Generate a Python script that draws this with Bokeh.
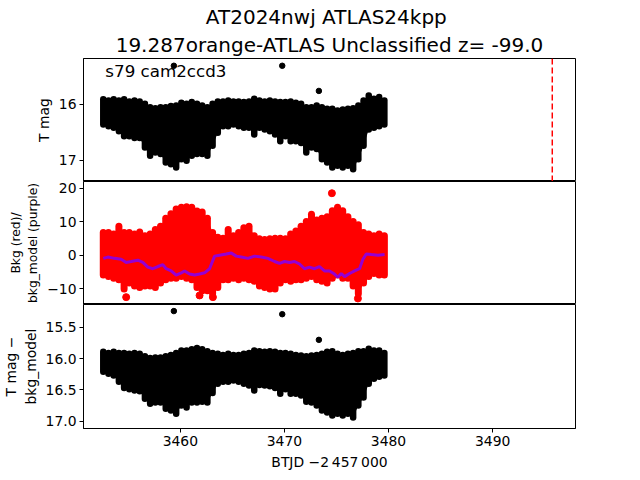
from bokeh.plotting import figure
from bokeh.models import Range1d, FixedTicker, Span, Label, Title, NumeralTickFormatter
from bokeh.layouts import column
from bokeh.embed import file_html
from bokeh.resources import INLINE

FONT = "DejaVu Sans"

# ---- data ----
title_line1 = "AT2024nwj  ATLAS24kpp"
title_line2 = "19.287orange-ATLAS Unclassified z= -99.0"
sector_text = "s79 cam2ccd3"
trigger_time = 3495.73

x_ticks = [3460, 3470, 3480, 3490]
top_ticks = [16, 17]
mid_ticks = [-10, 0, 10, 20]
bot_ticks = [15.5, 16.0, 16.5, 17.0]

# binned time stamps (BTJD - 2457000)
x_bins = [3452.6, 3453.1, 3453.6, 3454.1, 3454.6, 3455.1, 3455.6, 3456.1, 3456.6, 3457.1,
          3457.6, 3458.1, 3458.6, 3459.1, 3459.6, 3460.1, 3460.6, 3461.1, 3461.6, 3462.1,
          3462.6, 3463.1, 3463.6, 3464.1, 3464.6, 3465.1, 3465.6, 3466.1, 3466.6, 3467.1,
          3467.6, 3468.1, 3468.6, 3469.1, 3469.6, 3470.1, 3470.6, 3471.1, 3471.6, 3472.1,
          3472.6, 3473.1, 3473.6, 3474.1, 3474.6, 3475.1, 3475.6, 3476.1, 3476.6, 3477.1,
          3477.6, 3478.1, 3478.6, 3479.1, 3479.6]

# T mag: bright / faint envelope of the dense light curve per bin
tmag_hi = [15.91, 15.93, 15.91, 15.93, 15.91, 15.95, 15.93, 15.95, 15.99, 16.05,
           16.07, 16.05, 16.05, 16.03, 16.02, 15.97, 15.99, 15.96, 15.99, 16.02,
           16.05, 15.99, 15.95, 15.95, 15.93, 15.95, 15.95, 15.96, 15.95, 15.90,
           15.93, 15.95, 15.93, 15.95, 15.96, 15.96, 15.95, 15.97, 15.99, 16.05,
           16.05, 16.02, 16.05, 16.08, 16.08, 16.11, 16.09, 16.08, 16.07, 16.02,
           15.93, 15.84, 15.90, 15.87, 15.93]
tmag_lo = [16.36, 16.39, 16.42, 16.48, 16.57, 16.57, 16.60, 16.60, 16.77, 16.92,
           16.86, 16.89, 17.04, 17.07, 17.13, 16.98, 17.01, 16.92, 16.89, 16.89,
           16.92, 16.74, 16.51, 16.39, 16.39, 16.36, 16.39, 16.42, 16.42, 16.54,
           16.42, 16.45, 16.48, 16.54, 16.66, 16.57, 16.66, 16.66, 16.69, 16.86,
           16.77, 16.80, 16.98, 17.04, 17.13, 17.10, 17.13, 17.10, 17.16, 16.98,
           16.74, 16.45, 16.42, 16.39, 16.36]

# background flux envelope per bin
bkg_hi = [6.77, 6.77, 6.30, 8.65, 6.77, 6.77, 6.30, 6.96, 5.83, 6.30,
          7.71, 8.65, 11.0, 12.4, 13.8, 14.3, 14.5, 14.3, 13.2, 12.9,
          11.0, 6.77, 5.36, 5.08, 7.71, 5.83, 6.77, 8.18, 8.65, 5.83,
          4.89, 4.70, 4.89, 5.08, 5.08, 4.89, 6.30, 7.24, 8.65, 10.1,
          12.2, 10.5, 11.0, 11.5, 13.3, 14.3, 13.3, 11.5, 10.1, 9.1,
          6.77, 6.30, 5.83, 6.30, 5.83]
bkg_lo = [-5.91, -6.38, -6.85, -7.31, -10.1, -8.27, -9.19, -9.66, -9.19, -9.19,
          -9.66, -8.27, -7.31, -6.85, -6.85, -6.38, -6.85, -7.31, -9.66, -10.6,
          -10.6, -11.5, -9.66, -7.31, -7.31, -6.85, -7.31, -6.85, -7.31, -7.78,
          -9.19, -9.66, -10.1, -10.1, -8.27, -7.31, -7.78, -7.31, -7.31, -6.85,
          -6.38, -7.31, -7.78, -8.27, -6.85, -5.91, -6.85, -6.85, -9.19, -11.5,
          -8.27, -6.38, -5.44, -5.91, -5.91]

# T mag - bkg_model envelope per bin
corr_hi = [15.89, 15.91, 15.89, 15.91, 15.91, 15.92, 15.91, 15.92, 15.96, 15.99,
           15.98, 15.98, 15.96, 15.94, 15.91, 15.87, 15.87, 15.85, 15.83, 15.85,
           15.88, 15.91, 15.92, 15.94, 15.92, 15.94, 15.94, 15.92, 15.91, 15.87,
           15.88, 15.89, 15.88, 15.89, 15.91, 15.91, 15.92, 15.94, 15.95, 15.96,
           15.95, 15.94, 15.92, 15.89, 15.88, 15.92, 15.94, 15.92, 15.91, 15.88,
           15.88, 15.84, 15.87, 15.87, 15.91]
corr_lo = [16.21, 16.24, 16.27, 16.37, 16.47, 16.49, 16.51, 16.52, 16.64, 16.72,
           16.70, 16.70, 16.80, 16.83, 16.88, 16.75, 16.78, 16.70, 16.70, 16.69,
           16.70, 16.55, 16.40, 16.37, 16.37, 16.35, 16.37, 16.40, 16.43, 16.51,
           16.42, 16.43, 16.44, 16.47, 16.56, 16.49, 16.56, 16.56, 16.59, 16.69,
           16.70, 16.75, 16.83, 16.86, 16.91, 16.88, 16.91, 16.88, 16.94, 16.75,
           16.62, 16.40, 16.32, 16.29, 16.27]

# background model (purple)
model_t = [3452.6, 3453.04, 3453.68, 3454.32, 3454.80, 3455.28, 3455.92, 3456.40, 3456.88, 3457.36,
           3457.84, 3458.32, 3458.64, 3459.12, 3459.60, 3460.09, 3460.41, 3460.89, 3461.37, 3461.85,
           3462.33, 3462.81, 3463.29, 3463.77, 3464.41, 3464.89, 3465.37, 3465.85, 3466.49, 3467.13,
           3467.77, 3468.41, 3469.05, 3469.53, 3470.01, 3470.49, 3470.97, 3471.45, 3471.93, 3472.41,
           3472.89, 3473.37, 3473.85, 3474.33, 3474.81, 3475.13, 3475.46, 3475.78, 3476.26, 3476.74,
           3477.22, 3477.54, 3477.86, 3478.34, 3478.98, 3479.62]
model_v = [-0.93, -0.55, -0.93, -1.22, -2.15, -1.87, -1.49, -2.15, -3.56, -4.03,
           -3.37, -2.81, -4.03, -4.69, -5.91, -5.25, -4.69, -5.62, -5.91, -5.62,
           -5.25, -4.03, -0.27, 0.01, 0.38, 0.67, -0.27, -0.55, -0.93, -0.27,
           -0.55, -0.93, -1.87, -2.43, -1.87, -2.15, -1.87, -2.62, -4.03, -3.56,
           -4.03, -3.37, -4.69, -4.69, -5.62, -6.56, -5.44, -6.38, -5.44, -4.69,
           -4.03, -1.22, 0.38, 0.20, 0.01, 0.20]

# isolated points
out_t = [3459.38, 3469.79, 3473.31]
out_tmag = [15.31, 15.31, 15.76]
out_corr = [15.24, 15.29, 15.70]
bkg_out_t = [3474.56, 3454.80, 3461.85, 3463.13, 3477.06]
bkg_out_v = [18.5, -12.5, -12.0, -12.5, -12.9]

# ---- figures ----
x_range = Range1d(3450.70, 3497.96)


def style_axis(ax, label, label_size="13.9px", standoff=4):
    ax.axis_label = label
    ax.axis_label_text_font = FONT
    ax.axis_label_text_font_size = label_size
    ax.axis_label_text_font_style = "normal"
    ax.axis_label_text_color = "black"
    ax.axis_label_standoff = standoff
    ax.major_label_text_font = FONT
    ax.major_label_text_font_size = "13.9px"
    ax.major_label_text_color = "black"
    ax.major_label_standoff = 3
    ax.major_tick_out = 4
    ax.major_tick_in = 0
    ax.minor_tick_out = 0
    ax.minor_tick_in = 0
    ax.axis_line_color = "black"
    ax.major_tick_line_color = "black"


def style(p, ylabel, ticks, label_size="13.9px"):
    p.outline_line_color = "black"
    p.outline_line_width = 1
    p.outline_line_alpha = 1.0
    p.xgrid.visible = False
    p.ygrid.visible = False
    p.background_fill_color = "white"
    p.border_fill_color = "white"
    p.min_border_left = 76
    p.min_border_right = 56
    ax = p.yaxis[0]
    ax.ticker = FixedTicker(ticks=ticks)
    style_axis(ax, ylabel, label_size)


def band(p, lo, hi, color, width):
    p.varea(x=x_bins, y1=lo, y2=hi, fill_color=color)
    p.segment(x0=x_bins, y0=lo, x1=x_bins, y1=hi, line_color=color,
              line_width=width, line_cap="round")


common = dict(x_range=x_range, frame_width=492, output_backend="svg",
              toolbar_location=None, title=None)

p1 = figure(y_range=Range1d(17.38, 15.18), frame_height=123, x_axis_location=None,
            min_border_top=58, min_border_bottom=0, **common)
style(p1, "T mag", top_ticks)
band(p1, tmag_lo, tmag_hi, "black", 6.5)
p1.scatter(out_t, out_tmag, size=5.5, color="black")
p1.add_layout(Span(location=trigger_time, dimension="height", line_color="red",
                   line_dash="6 3", line_width=1.5))
p1.add_layout(Label(x=3452.8, y=15.40, text=sector_text, text_font=FONT,
                    text_font_size="16.7px", text_color="black",
                    text_baseline="alphabetic"))
p1.add_layout(Title(text=title_line2, align="center", text_font=FONT, text_color="black",
                    text_font_size="20px", text_font_style="normal", standoff=4), "above")
p1.add_layout(Title(text=title_line1, align="center", text_font=FONT, text_color="black",
                    text_font_size="20px", text_font_style="normal", standoff=0), "above")

p2 = figure(y_range=Range1d(-14.7, 22), frame_height=123, x_axis_location=None,
            min_border_top=0, min_border_bottom=0, **common)
style(p2, "Bkg (red)/\nbkg_model (purple)", mid_ticks, label_size="12.3px")
p2.yaxis[0].major_label_overrides = {-10: "\u221210"}
band(p2, bkg_lo, bkg_hi, "red", 7)
p2.scatter(bkg_out_t, bkg_out_v, size=7, color="red")
p2.line(model_t, model_v, line_color="darkviolet", line_width=3)

p3 = figure(y_range=Range1d(17.116, 15.135), frame_height=124, min_border_top=0,
            min_border_bottom=44, **common)
style(p3, "T mag \u2212\nbkg_model", bot_ticks)
p3.yaxis[0].formatter = NumeralTickFormatter(format="0.0")
band(p3, corr_lo, corr_hi, "black", 6.5)
p3.scatter(out_t, out_corr, size=5.5, color="black")
xa = p3.xaxis[0]
xa.ticker = FixedTicker(ticks=x_ticks)
style_axis(xa, "BTJD \u22122\u2009457\u2009000", standoff=5)

layout = column(p1, p2, p3, spacing=0)

with open("out.html", "w") as f:
    f.write(file_html(layout, INLINE))
